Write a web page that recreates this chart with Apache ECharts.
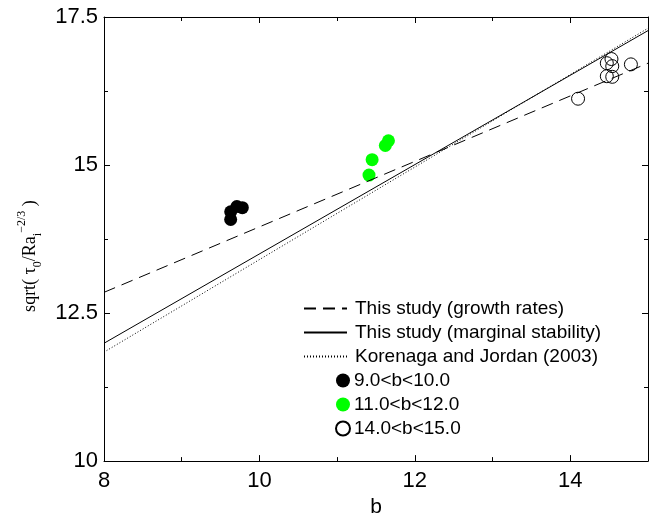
<!DOCTYPE html>
<html><head><meta charset="utf-8">
<script src="https://cdn.jsdelivr.net/npm/echarts@6/dist/echarts.min.js"></script>
<style>html,body{margin:0;padding:0;background:#fff}#c{width:653px;height:523px}</style>
</head><body><div id="c"></div>
<script>
// Fitted lines (endpoints read at b=8 and b=15)
const growthLine = [[8, 12.85], [15, 16.72]];
const marginalLine = [[8, 11.99], [15, 17.27]];
const korenagaLine = [[8, 11.84], [15, 17.31]];
// Data points
const b9to10 = [[9.63, 14.08], [9.63, 14.21], [9.71, 14.30], [9.78, 14.28]];
const b11to12 = [[11.41, 14.83], [11.45, 15.09], [11.62, 15.33], [11.66, 15.41]];
const b14to15 = [[14.10, 16.12], [14.47, 16.72], [14.53, 16.79], [14.54, 16.67], [14.47, 16.50], [14.54, 16.49], [14.78, 16.70]];
const xTicks = [8, 10, 12, 14];
const yTicks = [10, 12.5, 15, 17.5];
const seriesNames = ['This study (growth rates)', 'This study (marginal stability)', 'Korenaga and Jordan (2003)', '9.0<b<10.0', '11.0<b<12.0', '14.0<b<15.0'];

const chart = echarts.init(document.getElementById('c'), null, {renderer: 'canvas'});
const sans = 'Liberation Sans, Arial, Helvetica, sans-serif';
const axisBase = {
  axisLine: {onZero: false, lineStyle: {color: '#000', width: 1}},
  axisTick: {inside: true, length: 6, lineStyle: {color: '#000'}},
  minorTick: {show: true, splitNumber: 2, length: 4, lineStyle: {color: '#000'}},
  splitLine: {show: false}
};
const option = {
  animation: false,
  grid: {left: 104, right: 5, top: 17, bottom: 54, containLabel: false},
  xAxis: [
    Object.assign({}, axisBase, {
      type: 'value', min: 8, max: 15, interval: 2, position: 'bottom',
      name: 'b', nameLocation: 'middle', nameGap: 31,
      nameTextStyle: {fontFamily: sans, fontSize: 21, color: '#000'},
      axisLabel: {fontFamily: sans, fontSize: 22, color: '#000', margin: 9,
        formatter: v => xTicks.includes(v) ? String(v) : ''}
    }),
    Object.assign({}, axisBase, {
      type: 'value', min: 8, max: 15, interval: 2, position: 'top',
      axisLabel: {show: false}
    })
  ],
  yAxis: [
    Object.assign({}, axisBase, {
      type: 'value', min: 10, max: 17.5, interval: 2.5, position: 'left',
      name: '{a|sqrt( τ}{sub|0}{a|/Ra}{sub|i}{sup|−2/3}{a| )}',
      nameLocation: 'middle', nameRotate: 90, nameGap: 58,
      nameTextStyle: {
        padding: [0, 34, 0, 0],
        rich: {
          a: {fontFamily: 'Liberation Serif, Times New Roman, serif', fontSize: 18, color: '#000', lineHeight: 28, verticalAlign: 'middle'},
          sub: {fontFamily: 'Liberation Serif, Times New Roman, serif', fontSize: 12, color: '#000', lineHeight: 12, verticalAlign: 'bottom'},
          sup: {fontFamily: 'Liberation Serif, Times New Roman, serif', fontSize: 12, color: '#000', lineHeight: 12, verticalAlign: 'top'}
        }
      },
      axisLabel: {fontFamily: sans, fontSize: 22, color: '#000', margin: 6,
        formatter: v => yTicks.includes(v) ? String(v) : ''}
    }),
    Object.assign({}, axisBase, {
      type: 'value', min: 10, max: 17.5, interval: 2.5, position: 'right',
      axisLabel: {show: false}
    })
  ],
  legend: [
    {
      data: seriesNames.slice(0, 3), orient: 'vertical', left: 298, top: 294,
      itemWidth: 43, itemHeight: 14, itemGap: 5,
      itemStyle: {opacity: 0},
      textStyle: {fontFamily: sans, fontSize: 19, color: '#000', lineHeight: 14, padding: [0, 0, 0, 3]},
      selectedMode: false
    },
    {
      data: seriesNames.slice(3), orient: 'vertical', left: 330, top: 366,
      itemWidth: 14, itemHeight: 14, itemGap: 5,
      textStyle: {fontFamily: sans, fontSize: 19, color: '#000', lineHeight: 14, padding: [0, 0, 0, -1]},
      selectedMode: false
    }
  ],
  series: [
    {name: seriesNames[0], type: 'line', data: growthLine, symbol: 'none',
      lineStyle: {color: '#000', width: 1, type: [12, 7]}, itemStyle: {color: '#000'}},
    {name: seriesNames[1], type: 'line', data: marginalLine, symbol: 'none',
      lineStyle: {color: '#000', width: 1, type: 'solid'}, itemStyle: {color: '#000'}},
    {name: seriesNames[2], type: 'line', data: korenagaLine, symbol: 'none',
      lineStyle: {color: '#000', width: 1, type: [1, 2]}, itemStyle: {color: '#000'}},
    {name: seriesNames[3], type: 'scatter', data: b9to10, symbol: 'circle', symbolSize: 13,
      itemStyle: {color: '#000', opacity: 1}},
    {name: seriesNames[4], type: 'scatter', data: b11to12, symbol: 'circle', symbolSize: 13,
      itemStyle: {color: '#00ff00', opacity: 1}},
    {name: seriesNames[5], type: 'scatter', data: b14to15, symbol: 'circle', symbolSize: 13,
      itemStyle: {color: 'rgba(255,255,255,0)', borderColor: '#000', borderWidth: 1, opacity: 1}}
  ]
};
chart.setOption(option);
</script></body></html>
